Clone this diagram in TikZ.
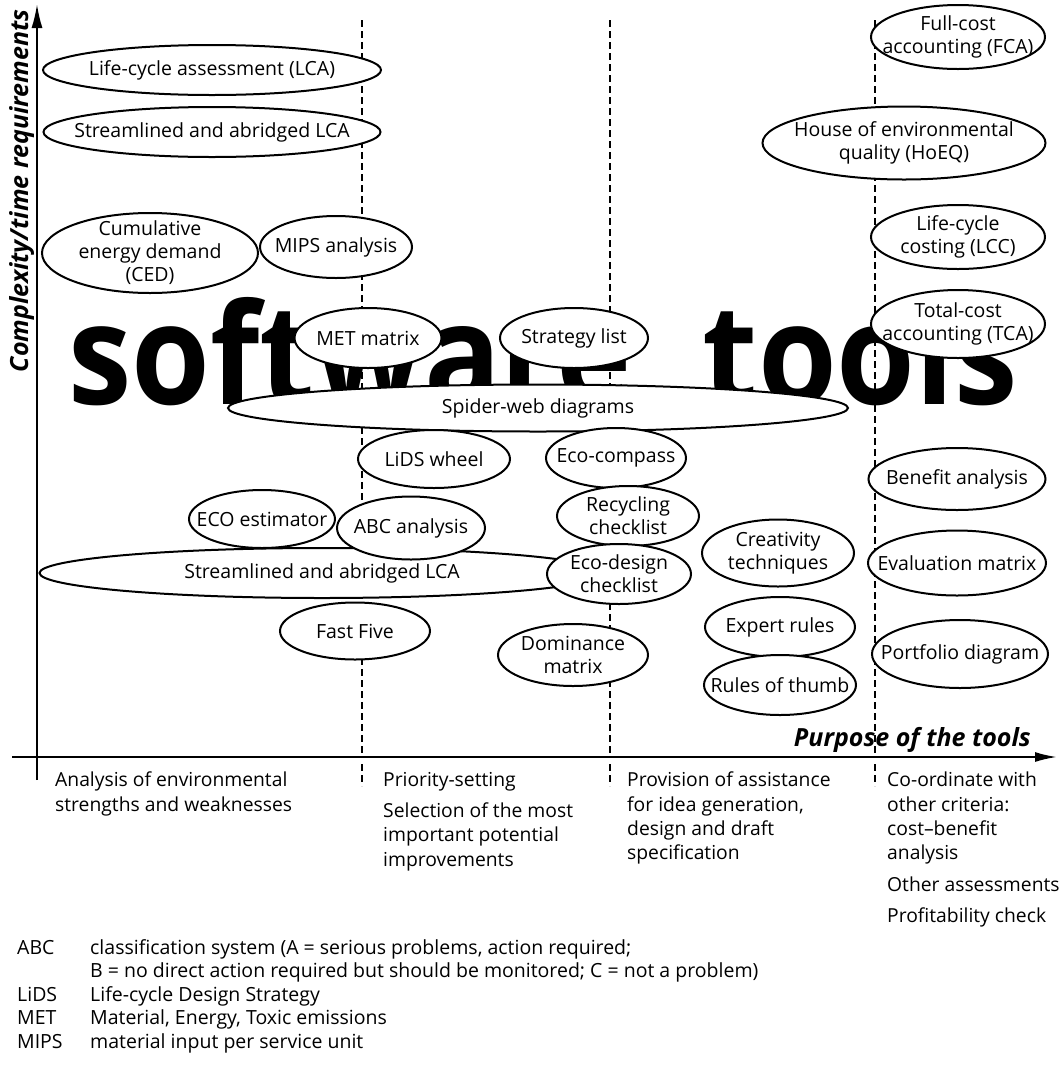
\documentclass[tikz,border=0pt]{standalone}
\usepackage{fontspec}
\setmainfont{Open Sans}
\usetikzlibrary{positioning, arrows.meta, shapes.geometric}

\tikzset{
  tool/.style 2 args={ellipse, draw, line width=2pt, fill=white,
    inner xsep=-160pt, inner ysep=-45pt,
    align=center, minimum width=#1, minimum height=#2,
    font=\fontsize{19.5}{23}\selectfont},
  purpose/.style={anchor=north west, inner sep=0pt, align=left,
    font=\fontsize{19.3}{24.3}\selectfont},
  abbr/.style={anchor=base west, inner sep=0pt, font=\fontsize{19.5}{23}\selectfont},
  axislabel/.style={inner sep=0pt, font=\fontsize{25}{25}\selectfont\bfseries\itshape},
  axis/.style={line width=2pt},
  sep/.style={line width=1.7pt, dash pattern=on 7pt off 4pt}
}

\begin{document}
\begin{tikzpicture}[x=1pt, y=-1pt, >=Stealth]
\useasboundingbox (0,0) rectangle (1059,1072);

% --- big lettering behind the tools ---
\node[anchor=base west, inner sep=0pt, xscale=0.91,
  font=\fontsize{140}{140}\selectfont\bfseries] (big) at (68,404) {software\hspace{0.3em} tools};

% --- column separators ---
\foreach \x in {362,610,875} {
  \draw[sep] (\x,20) -- (\x,757);
  \draw[sep] (\x,764) -- (\x,786);
}

% --- axes ---
\coordinate (o) at (37,757);
\coordinate (ytop) at (37,4);
\coordinate (xend) at (1057,757);
\draw[axis, -{Latex[length=24pt,width=11pt]}] (37,780) -- (ytop);
\draw[axis, -{Latex[length=22pt,width=10pt]}] (12,757) -- (xend);
\node[axislabel, rotate=90, anchor=base] (ylab) at (28,191) {Complexity/time requirements};
\node[axislabel, anchor=base east] (xlab) at (1031,746) {Purpose of the tools};

% --- tools ---
\node[tool={338pt}{50pt}] (lca) at (212,70) {Life-cycle assessment (LCA)};
\node[tool={337pt}{50pt}] (slca) at (212,132) {Streamlined and abridged LCA};
\node[tool={174pt}{64pt}] (fca) at (958,37) {Full-cost\\accounting (FCA)};
\node[tool={283pt}{73pt}] (hoeq) at (904,143) {House of environmental\\quality (HoEQ)};
\node[tool={216pt}{80pt}] (ced) at (150,253) {Cumulative\\energy demand\\(CED)};
\node[tool={152pt}{62pt}] (mips) at (336,247) {MIPS analysis};
\node[tool={174pt}{64pt}] (lcc) at (958,237) {Life-cycle\\costing (LCC)};
\node[tool={174pt}{68pt}] (tca) at (958,324) {Total-cost\\accounting (TCA)};
\node[tool={147pt}{60pt}] (met) at (368,338) {MET matrix};
\node[tool={148pt}{60pt}] (strat) at (574,338) {Strategy list};
\node[tool={620pt}{47pt}] (spider) at (538,408) {Spider-web diagrams};
\node[tool={152pt}{58pt}] (lids) at (434,459) {LiDS wheel};
\node[tool={140pt}{60pt}] (compass) at (616,458) {Eco-compass};
\node[tool={177pt}{62pt}] (benefit) at (957,479) {Benefit analysis};
\node[tool={565pt}{50pt}] (slcab) at (322,573) {Streamlined and abridged LCA};
\node[tool={146pt}{58pt}] (ecoest) at (262,519) {ECO estimator};
\node[tool={148pt}{63pt}] (abc) at (411,528) {ABC analysis};
\node[tool={142pt}{60pt}] (recyc) at (628,516) {Recycling\\checklist};
\node[tool={144pt}{60pt}] (ecodes) at (619,574) {Eco-design\\checklist};
\node[tool={152pt}{67pt}] (creat) at (778,553) {Creativity\\techniques};
\node[tool={178pt}{65pt}] (evalm) at (957,563) {Evaluation matrix};
\node[tool={150pt}{57pt}] (fast) at (355,631) {Fast Five};
\node[tool={150pt}{62pt}] (domin) at (573,655) {Dominance\\matrix};
\node[tool={150pt}{60pt}] (expert) at (780,627) {Expert rules};
\node[tool={152pt}{60pt}] (thumb) at (780,685) {Rules of thumb};
\node[tool={176pt}{68pt}] (portf) at (960,654) {Portfolio diagram};

% --- purposes ---
\node[purpose] (p1) at (55,772) {Analysis of environmental\\strengths and weaknesses};
\node[purpose] (p2) at (383,772) {Priority-setting\\[7pt]Selection of the most\\important potential\\improvements};
\node[purpose] (p3) at (627,772) {Provision of assistance\\for idea generation,\\design and draft\\specification};
\node[purpose] (p4) at (887,772) {Co-ordinate with\\other criteria:\\cost--benefit\\analysis\\[7pt]Other assessments\\[7pt]Profitability check};

% --- abbreviations ---
\node[abbr] (kabc) at (17,954) {ABC};
\node[abbr] (dabc) at (90,954) {classification system (A = serious problems, action required;};
\node[abbr] (dabcb) at (90,977) {B = no direct action required but should be monitored; C = not a problem)};
\node[abbr] (klids) at (17,1001) {LiDS};
\node[abbr] (dlids) at (90,1001) {Life-cycle Design Strategy};
\node[abbr] (kmet) at (17,1024) {MET};
\node[abbr] (dmet) at (90,1024) {Material, Energy, Toxic emissions};
\node[abbr] (kmips) at (17,1048) {MIPS};
\node[abbr] (dmips) at (90,1048) {material input per service unit};
\end{tikzpicture}
\end{document}
